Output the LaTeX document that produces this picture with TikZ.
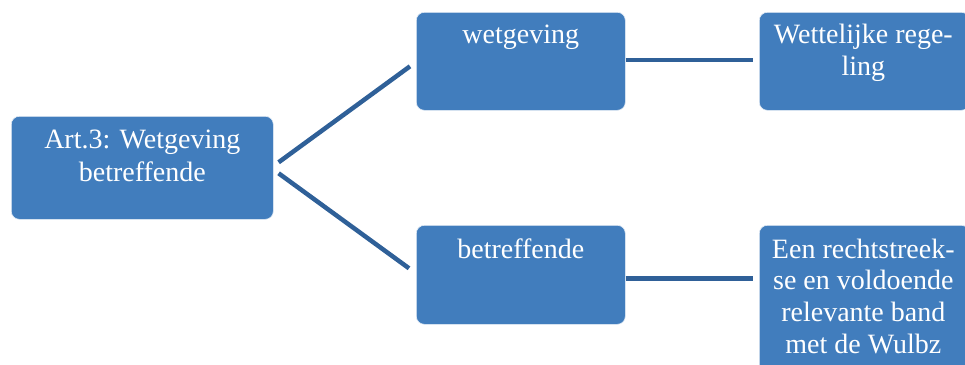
\documentclass[tikz,border=0pt]{standalone}
\usepackage{fontspec}
\setmainfont{Liberation Serif}
\usetikzlibrary{calc}
\definecolor{boxblue}{HTML}{417DBD}
\definecolor{linkblue}{HTML}{2F6098}
\begin{document}
\begin{tikzpicture}[x=1pt,y=-1pt,
  box/.style={draw=white!85!boxblue, line width=0.6pt, fill=boxblue, rounded corners=8pt, inner sep=0pt, anchor=north west},
  txt/.style={text=white, font=\fontsize{28}{33}\selectfont, align=center, inner sep=0pt, anchor=base},
  link/.style={draw=linkblue, line width=4.5pt}]
\useasboundingbox (0,0) rectangle (965,364);
\clip (0,0) rectangle (965,364);
% boxes
\node[box, minimum width=262pt, minimum height=103pt] (L) at (11,116) {};
\node[box, minimum width=209pt, minimum height=98pt] (M1) at (416,12) {};
\node[box, minimum width=209pt, minimum height=99pt] (M2) at (416,225) {};
\node[box, minimum width=210pt, minimum height=98pt] (R1) at (759,12) {};
\node[box, minimum width=210pt, minimum height=150pt] (R2) at (759,225) {};
% texts (base anchor = baseline of last line)
\node[txt] (tL) at ($(L.north)+(0,65)$) {Art.3: Wetgeving\\betreffende};
\node[txt] (tM1) at ($(M1.north)+(0,31)$) {wetgeving};
\node[txt] (tM2) at ($(M2.north)+(0,33)$) {betreffende};
\node[txt, font=\fontsize{28}{32}\selectfont] (tR1) at ($(R1.north)+(-1,63)$) {Wettelijke rege-\\ling};
\node[txt, font=\fontsize{28}{31.6}\selectfont] (tR2) at ($(R2.north)+(-1,128)$) {Een rechtstreek-\\se en voldoende\\relevante band\\met de Wulbz};
% connectors
\draw[link] ($(L.east)+(5,-5.5)$) -- ($(M1.west)+(-6,5)$);
\draw[link] ($(L.east)+(5,5.5)$) -- ($(M2.west)+(-7,-6.5)$);
\draw[link] ($(M1.east)+(0,-1.5)$) -- ($(R1.west)+(-6,-1.5)$);
\draw[link] ($(M2.east)+(0,3.5)$) -- ($(R2.west)+(-6,-22)$);
\end{tikzpicture}
\end{document}
